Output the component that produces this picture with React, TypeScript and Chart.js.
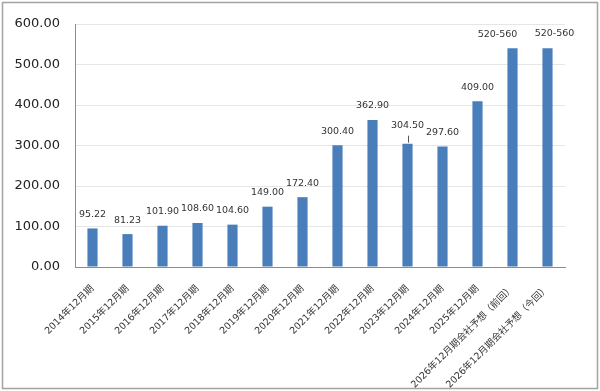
import React, { useEffect, useRef } from "react";
import { Chart, registerables } from "chart.js";

Chart.register(...registerables);

const categories = [
  "2014年12月期",
  "2015年12月期",
  "2016年12月期",
  "2017年12月期",
  "2018年12月期",
  "2019年12月期",
  "2020年12月期",
  "2021年12月期",
  "2022年12月期",
  "2023年12月期",
  "2024年12月期",
  "2025年12月期",
  "2026年12月期会社予想（前回）",
  "2026年12月期会社予想（今回）",
];

const values = [95.22, 81.23, 101.9, 108.6, 104.6, 149.0, 172.4, 300.4, 362.9, 304.5, 297.6, 409.0, 540, 540];

const valueLabels = [
  "95.22",
  "81.23",
  "101.90",
  "108.60",
  "104.60",
  "149.00",
  "172.40",
  "300.40",
  "362.90",
  "304.50",
  "297.60",
  "409.00",
  "520-560",
  "520-560",
];

const yMin = 0;
const yMax = 600;
const yStep = 100;

const FONT = "'DejaVu Sans', 'Noto Sans CJK JP', sans-serif";

const framePlugin = {
  id: "frame",
  beforeDraw(chart: any) {
    const { ctx, width, height } = chart;
    ctx.save();
    ctx.fillStyle = "#ffffff";
    ctx.fillRect(0, 0, width, height);
    ctx.strokeStyle = "#a3a3a3";
    ctx.lineWidth = 1.5;
    ctx.strokeRect(2.5, 2.5, width - 5, height - 5);
    ctx.restore();
  },
};

// small manual nudges of individual data labels (dx, extra lift)
const nudges: Record<number, [number, number]> = {
  9: [0, 4],
  12: [-15, 0],
  13: [7, 1],
};

const labelPlugin = {
  id: "valueLabels",
  afterDatasetsDraw(chart: any) {
    const { ctx } = chart;
    const meta = chart.getDatasetMeta(0);
    ctx.save();
    ctx.font = `9.5px ${FONT}`;
    ctx.fillStyle = "#333333";
    ctx.textAlign = "center";
    ctx.textBaseline = "middle";
    meta.data.forEach((el: any, i: number) => {
      const [dx, lift] = nudges[i] || [0, 0];
      ctx.fillText(valueLabels[i], el.x + dx, el.y - 14 - lift);
      if (i === 9) {
        ctx.strokeStyle = "#555555";
        ctx.lineWidth = 1;
        ctx.beginPath();
        ctx.moveTo(Math.round(el.x) + 0.5, el.y - 1);
        ctx.lineTo(Math.round(el.x) + 0.5, el.y - 8);
        ctx.stroke();
      }
    });
    ctx.restore();
  },
};

export default function App() {
  const ref = useRef<HTMLCanvasElement | null>(null);

  useEffect(() => {
    document.body.style.margin = "0";
    if (!ref.current) return;
    const chart = new Chart(ref.current, {
      type: "bar",
      data: {
        labels: categories,
        datasets: [
          {
            data: values,
            backgroundColor: "#4a7ebb",
            borderWidth: 0,
            barPercentage: 0.58,
            categoryPercentage: 0.5,
          },
        ],
      },
      options: {
        responsive: false,
        animation: false,
        devicePixelRatio: 1,
        layout: { padding: { top: 24, right: 35, left: 0, bottom: 0 } },
        plugins: {
          legend: { display: false },
          tooltip: { enabled: false },
          title: { display: false },
        },
        scales: {
          x: {
            grid: { display: false },
            border: { display: true, color: "#8c8c8c", width: 1 },
            ticks: {
              autoSkip: false,
              maxRotation: 45,
              minRotation: 45,
              color: "#333333",
              font: { family: FONT, size: 9.5 },
              padding: 8,
            },
            afterFit(scale: any) {
              scale.height = 124;
            },
          },
          y: {
            min: yMin,
            max: yMax,
            grid: { color: "#e6e6e6", drawTicks: false, lineWidth: 1 },
            border: { display: true, color: "#8c8c8c", width: 1 },
            ticks: {
              stepSize: yStep,
              color: "#222222",
              font: { family: FONT, size: 13 },
              padding: 15,
              callback: (v: any) => Number(v).toFixed(2),
            },
            afterFit(scale: any) {
              scale.width = 75;
            },
          },
        },
      },
      plugins: [framePlugin, labelPlugin],
    });
    return () => chart.destroy();
  }, []);

  return (
    <div style={{ width: 600, height: 391 }}>
      <canvas ref={ref} width={600} height={391} style={{ display: "block" }} />
    </div>
  );
}
